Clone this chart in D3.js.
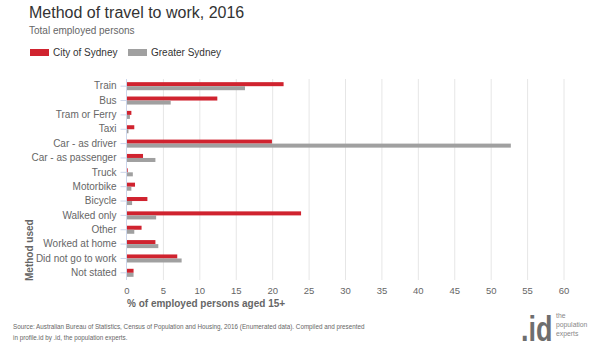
<!DOCTYPE html>
<html>
<head>
<meta charset="utf-8">
<script src="https://d3js.org/d3.v7.min.js"></script>
<style>
  body { margin:0; background:#fff; }
  text { font-family: "Liberation Sans", Arial, sans-serif; }
</style>
</head>
<body>
<div id="chart"></div>
<script>
var categories = ["Train","Bus","Tram or Ferry","Taxi","Car - as driver","Car - as passenger","Truck","Motorbike","Bicycle","Walked only","Other","Worked at home","Did not go to work","Not stated"];
var citySydney =    [21.5, 12.4, 0.6, 1.0, 19.9, 2.2, 0.1, 1.1, 2.8, 23.9, 2.0, 3.9, 6.9, 0.9];
var greaterSydney = [16.2, 6.0, 0.4, 0.2, 52.7, 3.9, 0.8, 0.6, 0.7, 4.0, 1.0, 4.3, 7.5, 0.9];
var xTicks = [0,5,10,15,20,25,30,35,40,45,50,55,60];
var seriesNames = ["City of Sydney","Greater Sydney"];
var colors = ["#d0232f","#a0a0a0"];

var W = 600, H = 352;
var svg = d3.select("#chart").append("svg")
  .attr("width", W).attr("height", H);

var margin = {top:79, left:127, right:36, bottom:72};

var x = d3.scaleLinear().domain([0,60]).range([margin.left, W - margin.right]);
var y = d3.scaleBand().domain(categories).range([margin.top, H - margin.bottom]).paddingInner(0.44).paddingOuter(0.22);
var ySub = d3.scaleBand().domain([0,1]).range([0, y.bandwidth()]);

// title
svg.append("text").attr("x",29).attr("y",18)
  .attr("font-size",16).attr("fill","#333").text("Method of travel to work, 2016");
svg.append("text").attr("x",29).attr("y",34)
  .attr("font-size",10).attr("fill","#666").text("Total employed persons");

// legend
var leg = svg.selectAll(".leg").data(seriesNames).enter().append("g")
  .attr("transform", function(d,i){ return "translate(" + (30 + i*98) + ",49)"; });
leg.append("rect").attr("width",19).attr("height",7).attr("fill", function(d,i){ return colors[i]; });
leg.append("text").attr("x",23).attr("y",7).attr("font-size",10).attr("fill","#333").text(function(d){ return d; });

// grid
svg.append("g").selectAll("line").data(xTicks.slice(1)).enter().append("line")
  .attr("x1", x).attr("x2", x)
  .attr("y1", margin.top).attr("y2", H - margin.bottom)
  .attr("stroke","#e6e6e6").attr("stroke-width",1);

// x tick labels
svg.append("g").selectAll("text").data(xTicks).enter().append("text")
  .attr("x", x).attr("y", 294).attr("text-anchor","middle")
  .attr("font-size",9.5).attr("fill","#666").text(function(d){ return d; });

// bars
var rows = svg.append("g").selectAll("g").data(categories).enter().append("g")
  .attr("transform", function(d){ return "translate(0," + y(d) + ")"; });
rows.append("rect").attr("x", x(0)).attr("y", ySub(0))
  .attr("width", function(d,i){ return x(citySydney[i]) - x(0); })
  .attr("height", ySub.bandwidth()).attr("fill", colors[0]);
rows.append("rect").attr("x", x(0)).attr("y", ySub(1))
  .attr("width", function(d,i){ return x(greaterSydney[i]) - x(0); })
  .attr("height", ySub.bandwidth()).attr("fill", colors[1]);

// y axis
var yAxis = svg.append("g").attr("transform","translate(" + (x(0) - 0.5) + ",0)")
  .call(d3.axisLeft(y).tickSize(6).tickPadding(4))
  .attr("color","#666")
  .attr("font-size",10)
  .attr("font-family","\"Liberation Sans\", Arial, sans-serif");
yAxis.select(".domain").attr("stroke","#ccd6eb").attr("d","M0," + margin.top + "V" + (H - margin.bottom));
yAxis.selectAll(".tick line").attr("stroke","#ccd6eb");
yAxis.selectAll(".tick text").style("fill","#666");

// axis titles
svg.append("text").attr("transform","translate(33,281) rotate(-90)")
  .attr("font-size",10).attr("font-weight","bold").attr("fill","#666").text("Method used");
svg.append("text").attr("x",127).attr("y",307)
  .attr("font-size",10).attr("font-weight","bold").attr("fill","#666").text("% of employed persons aged 15+");

// source
svg.append("text").attr("x",13).attr("y",329).attr("font-size",6.3).attr("fill","#666")
  .text("Source: Australian Bureau of Statistics, Census of Population and Housing, 2016 (Enumerated data). Compiled and presented");
svg.append("text").attr("x",13).attr("y",340).attr("font-size",6.3).attr("fill","#666")
  .text("in profile.id by .id, the population experts.");

// logo
svg.append("g").attr("transform","translate(521,341) scale(1,1.3)")
  .append("text").attr("font-size",27).attr("font-weight","bold")
  .attr("fill","#6e6e6e").text(".id");
var logoLines = ["the","population","experts"];
svg.append("g").selectAll("text").data(logoLines).enter().append("text")
  .attr("x",556).attr("y", function(d,i){ return 318 + i*9; })
  .attr("font-size",6.8).attr("fill","#888").text(function(d){ return d; });
</script>
</body>
</html>
